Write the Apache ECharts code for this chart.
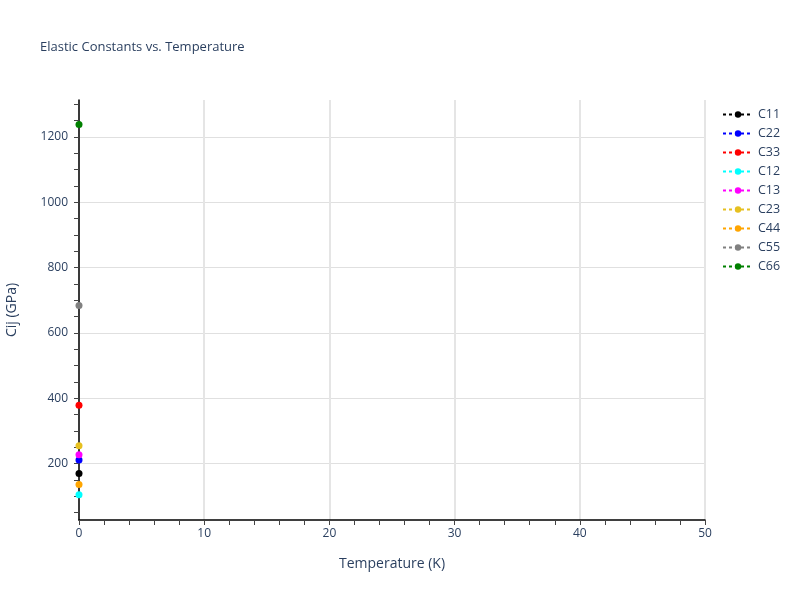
<!DOCTYPE html>
<html>
<head>
<meta charset="utf-8">
<script src="https://cdn.jsdelivr.net/npm/echarts@6/dist/echarts.min.js"></script>
<style>html,body{margin:0;padding:0;background:#fff}#c{width:800px;height:600px}</style>
</head>
<body>
<div id="c"></div>
<script>
const seriesNames = ['C11','C22','C33','C12','C13','C23','C44','C55','C66'];
const seriesColors = ['#000000','#0000ff','#ff0000','#00ffff','#ff00ff','#e6c020','#ffa500','#808080','#008000'];
const temperatures = [0];
const C11 = [169];
const C22 = [211];
const C33 = [378];
const C12 = [104];
const C13 = [227];
const C23 = [254];
const C44 = [136];
const C55 = [684];
const C66 = [1238];
const seriesValues = [C11, C22, C33, C12, C13, C23, C44, C55, C66];
const yLabelValues = [200, 400, 600, 800, 1000, 1200];
const yTickValues = [50,100,150,200,250,300,350,400,450,500,550,600,650,700,750,800,850,900,950,1000,1050,1100,1150,1200,1250,1300];

const fontFam = '"Open Sans", Verdana, Arial, sans-serif';
const textColor = '#2a3f5f';
const chart = echarts.init(document.getElementById('c'), null, {renderer:'canvas'});
chart.setOption({
  animation: false,
  backgroundColor: '#ffffff',
  title: {
    text: 'Elastic Constants vs. Temperature',
    left: 35, top: 36,
    textStyle: {fontFamily: fontFam, fontSize: 13, fontWeight: 'normal', color: textColor}
  },
  legend: {
    orient: 'vertical',
    left: 722, top: 108,
    padding: 0,
    itemWidth: 30, itemHeight: 8, itemGap: 6,
    textStyle: {fontFamily: fontFam, fontSize: 12.5, color: textColor},
    data: seriesNames
  },
  grid: {left: 79, right: 95, top: 100, bottom: 80, containLabel: false, outerBoundsMode: 'none'},
  xAxis: {
    type: 'value', min: 0, max: 50, interval: 10,
    name: 'Temperature (K)', nameLocation: 'middle', nameGap: 37,
    nameTextStyle: {fontFamily: fontFam, fontSize: 14, color: textColor},
    axisLine: {show: true, onZero: false, lineStyle: {color: '#000', width: 1.5}},
    axisTick: {show: true, length: 5, lineStyle: {color: '#444'}},
    minorTick: {show: true, splitNumber: 5, length: 5, lineStyle: {color: '#444'}},
    axisLabel: {fontFamily: fontFam, fontSize: 12, color: textColor, margin: 8},
    splitLine: {show: true, lineStyle: {color: '#e5e5e5', width: 2}}
  },
  yAxis: [{
    type: 'value', min: 27, max: 1313,
    name: 'Cij (GPa)', nameLocation: 'middle', nameGap: 60,
    nameTextStyle: {fontFamily: fontFam, fontSize: 14, color: textColor},
    axisLine: {show: true, onZero: false, lineStyle: {color: '#000', width: 1.5}},
    axisTick: {show: false, customValues: yLabelValues},
    axisLabel: {fontFamily: fontFam, fontSize: 12, color: textColor, margin: 11, customValues: yLabelValues,
      formatter: v => String(v)},
    splitLine: {show: true, lineStyle: {color: '#e0e0e0', width: 1}}
  }, {
    type: 'value', min: 27, max: 1313, position: 'left', offset: 0,
    axisLine: {show: false},
    axisTick: {show: true, length: 5, customValues: yTickValues, lineStyle: {color: '#444'}},
    axisLabel: {show: false},
    splitLine: {show: false}
  }],
  series: seriesNames.map((name, i) => ({
    name: name,
    type: 'line',
    yAxisIndex: 0,
    data: temperatures.map((t, j) => [t, seriesValues[i][j]]),
    symbol: 'circle',
    symbolSize: 7,
    showSymbol: true,
    clip: false,
    itemStyle: {color: seriesColors[i]},
    lineStyle: {color: seriesColors[i], type: [3, 3], width: 2}
  }))
});
</script>
</body>
</html>
